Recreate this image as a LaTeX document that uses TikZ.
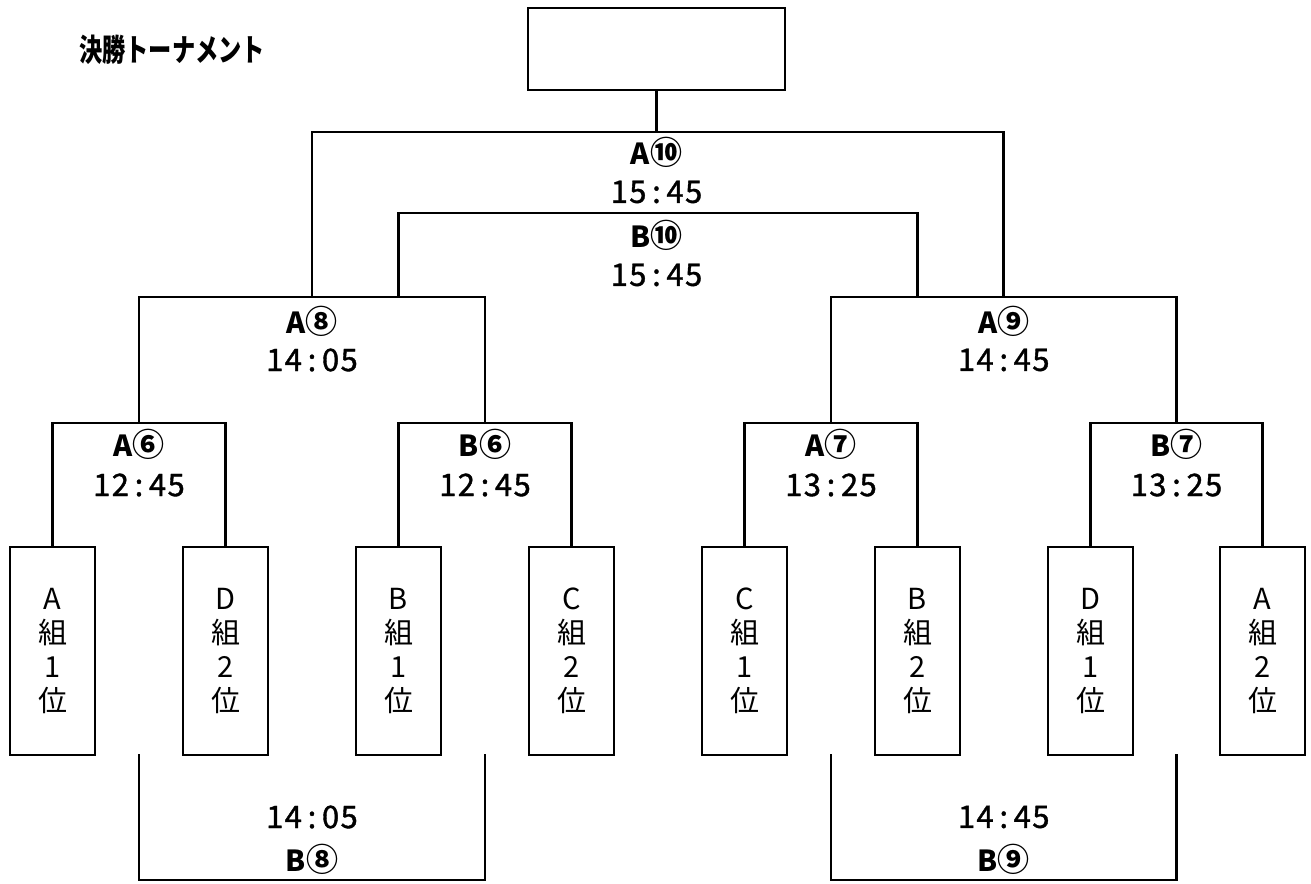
\documentclass[tikz,border=0pt]{standalone}
\usepackage{graphicx}
\usepackage{fontspec}
\setmainfont{Noto Sans CJK JP}
\newfontfamily\timefont[FakeBold=1.2]{Noto Sans CJK JP}
\newcommand\tm[5]{{\timefont\makebox[18.6pt]{#1}\makebox[18.6pt]{#2}\makebox[18.6pt]{#3}\makebox[18.6pt]{#4}\makebox[18.6pt]{#5}}}
\newcommand\cn[1]{{\fontsize{32}{32}\selectfont #1}}
\tikzset{
  ln/.style={line width=2.7pt, line join=miter, line cap=rect},
  team/.style={draw, line width=2.7pt, minimum width=85pt, minimum height=208pt, inner sep=0pt, align=center, font=\fontsize{29}{34}\selectfont},
  champbox/.style={draw, line width=2.7pt, minimum width=257pt, minimum height=82pt, inner sep=0pt},
  match/.style={inner sep=0pt, font=\bfseries\fontsize{29}{30}\selectfont},
  time/.style={inner sep=0pt, font=\fontsize{31}{31}\selectfont},
  title/.style={inner sep=0pt, anchor=west, font=\bfseries\fontsize{31}{31}\selectfont}
}
\begin{document}
\begin{tikzpicture}[x=1pt,y=-1pt]
\useasboundingbox (0,0) rectangle (1311,883);
% title
\node[title] (ttl) at (79,50) {\scalebox{0.75}[1]{決勝トーナメント}};
% champion box
\node[champbox] (champ) at (656.5,49) {};
% teams
\node[team] (t1) at (52.5,651) {A\\組\\1\\位};
\node[team] (t2) at (225.5,651) {D\\組\\2\\位};
\node[team] (t3) at (398.5,651) {B\\組\\1\\位};
\node[team] (t4) at (571.5,651) {C\\組\\2\\位};
\node[team] (t5) at (744.5,651) {C\\組\\1\\位};
\node[team] (t6) at (917.5,651) {B\\組\\2\\位};
\node[team] (t7) at (1090.5,651) {D\\組\\1\\位};
\node[team] (t8) at (1262.5,651) {A\\組\\2\\位};
% junction coordinates
\coordinate (a6) at (139,423);
\coordinate (b6) at (485,423);
\coordinate (a7) at (831,423);
\coordinate (b7) at (1176.5,423);
\coordinate (a8) at (312,297);
\coordinate (a9) at (1003.75,297);
\coordinate (a10) at (656.5,132);
\coordinate (b10l) at (398.5,297);
\coordinate (b10r) at (917.5,297);
\coordinate (b10) at (656.5,213);
\coordinate (b8l) at (139,755);
\coordinate (b8r) at (485,755);
\coordinate (b8) at (312,880);
\coordinate (b9l) at (831,755);
\coordinate (b9r) at (1176.5,755);
\coordinate (b9) at (1003.75,880);
% brackets
\draw[ln] (t1.north) |- (a6) -| (t2.north);
\draw[ln] (t3.north) |- (b6) -| (t4.north);
\draw[ln] (t5.north) |- (a7) -| (t6.north);
\draw[ln] (t7.north) |- (b7) -| (t8.north);
\draw[ln] (a6) |- (a8) -| (b6);
\draw[ln] (a7) |- (a9) -| (b7);
\draw[ln] (a8) |- (a10) -| (a9);
\draw[ln] (champ.south) -- (a10);
\draw[ln] (b10l) |- (b10) -| (b10r);
\draw[ln] (b8l) |- (b8) -| (b8r);
\draw[ln] (b9l) |- (b9) -| (b9r);
% labels
\node[match] (la10) at (656.5,152) {A\cn{⑩}};
\node[time] (ta10) at (656.5,192) {\tm15:45};
\node[match] (lb10) at (656.5,235) {B\cn{⑩}};
\node[time] (tb10) at (656.5,275) {\tm15:45};
\node[match] (la8) at (312,321) {A\cn{⑧}};
\node[time] (ta8) at (312,360) {\tm14:05};
\node[match] (la9) at (1003.75,321) {A\cn{⑨}};
\node[time] (ta9) at (1003.75,360) {\tm14:45};
\node[match] (la6) at (139,444) {A\cn{⑥}};
\node[time] (ta6) at (139,485) {\tm12:45};
\node[match] (lb6) at (485,444) {B\cn{⑥}};
\node[time] (tb6) at (485,485) {\tm12:45};
\node[match] (la7) at (831,444) {A\cn{⑦}};
\node[time] (ta7) at (831,485) {\tm13:25};
\node[match] (lb7) at (1176.5,444) {B\cn{⑦}};
\node[time] (tb7) at (1176.5,485) {\tm13:25};
\node[time] (tb8) at (312,817) {\tm14:05};
\node[match] (lb8) at (312,859) {B\cn{⑧}};
\node[time] (tb9) at (1003.75,817) {\tm14:45};
\node[match] (lb9) at (1003.75,859) {B\cn{⑨}};
\end{tikzpicture}
\end{document}
